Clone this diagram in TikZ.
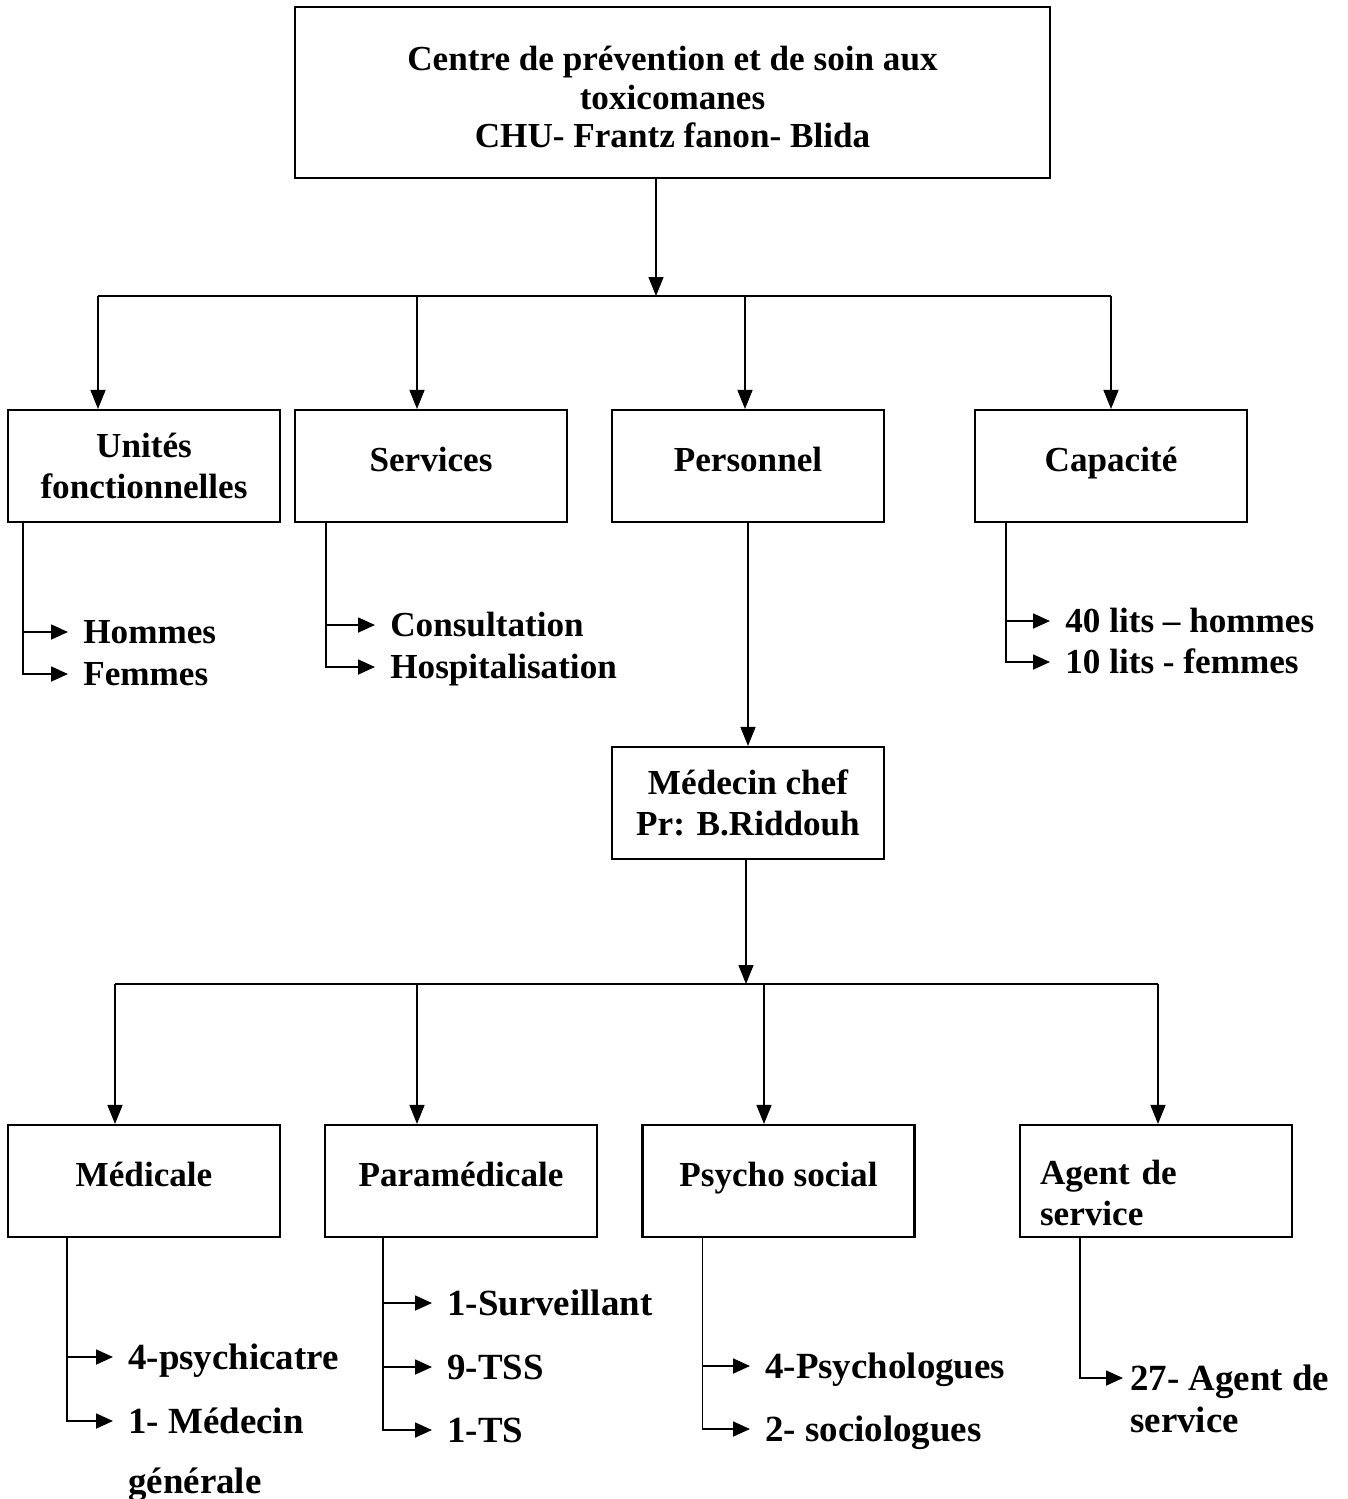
\documentclass[tikz,border=0pt]{standalone}
\usepackage{fontspec}
\setmainfont{Liberation Serif}
\usetikzlibrary{arrows.meta}

\begin{document}
\begin{tikzpicture}[x=0.02cm,y=-0.02cm,
  box/.style={draw,line width=1.2pt,minimum width=5.44cm,minimum height=2.24cm,align=center,font=\bfseries\fontsize{20}{23}\selectfont},
  single/.style={text height=0.5cm,text depth=0.3cm},
  conn/.style={line width=0.8pt,-{Triangle[length=0.38cm,width=0.3cm]}},
  lst/.style={line width=1pt,-{Triangle[length=0.34cm,width=0.3cm]}},
  item/.style={anchor=west,inner xsep=0.3cm,inner ysep=0pt,text height=0.47cm,text depth=0pt,font=\bfseries\fontsize{20}{23}\selectfont},
  itemb/.style={item,text height=0.49cm,font=\bfseries\fontsize{21}{25}\selectfont}]
\useasboundingbox (0,0) rectangle (1348,1499);

\node[box,minimum width=15.1cm,minimum height=3.42cm,line width=1.4pt,font=\bfseries\fontsize{20}{22}\selectfont] (centre) at (672.5,92.5) {\rule{0pt}{0.68cm}Centre de prévention et de soin aux\\toxicomanes\\CHU- Frantz fanon- Blida};

\node[box] (unites) at (144,466) {Unités\\fonctionnelles};
\node[box,single] (services) at (431,466) {Services};
\node[box,single] (personnel) at (748,466) {Personnel};
\node[box,single] (capacite) at (1111,466) {Capacité};

\coordinate (bus1) at (656,296);
\coordinate (b1) at (98,296);
\coordinate (b2) at (417,296);
\coordinate (b3) at (745,296);
\coordinate (b4) at (1111,296);
\draw[conn] (centre.south -| bus1) -- (bus1);
\draw[line width=0.8pt] (b1) -- (b4);
\draw[conn] (b1) -- (b1 |- unites.north);
\draw[conn] (b2) -- (b2 |- services.north);
\draw[conn] (b3) -- (b3 |- personnel.north);
\draw[conn] (b4) -- (b4 |- capacite.north);

\node[item] (hommes) at (68,632) {Hommes};
\node[item] (femmes) at (68,674) {Femmes};
\node[item] (consult) at (375,625) {Consultation};
\node[item] (hospit) at (375,667) {Hospitalisation};
\node[item] (lits40) at (1050,621) {40 lits – hommes};
\node[item] (lits10) at (1050,662) {10 lits - femmes};
\draw[lst] ([xshift=0.32cm]unites.south west) |- (hommes.west);
\draw[lst] ([xshift=0.32cm]unites.south west) |- (femmes.west);
\draw[lst] ([xshift=0.64cm]services.south west) |- (consult.west);
\draw[lst] ([xshift=0.64cm]services.south west) |- (hospit.west);
\draw[lst] ([xshift=0.64cm]capacite.south west) |- (lits40.west);
\draw[lst] ([xshift=0.64cm]capacite.south west) |- (lits10.west);

\node[box] (chef) at (748,803) {Médecin chef\\Pr: B.Riddouh};
\draw[conn] (personnel) -- (chef);

\node[box,single] (medicale) at (144,1181) {Médicale};
\node[box,single] (paramed) at (461,1181) {Paramédicale};
\node[box,single] (psycho) at (778.5,1181) {Psycho social};
\node[box,text width=4.64cm,align=left,inner xsep=0.4cm] (agent) at (1156,1181) {\rule{0pt}{0.96cm}Agent de\\service};

\coordinate (bus2) at (746,984);
\coordinate (c1) at (115,984);
\coordinate (c2) at (417,984);
\coordinate (c3) at (764,984);
\coordinate (c4) at (1158,984);
\draw[conn] (chef.south -| bus2) -- (bus2);
\draw[line width=0.8pt] (c1) -- (c4);
\draw[conn] (c1) -- (c1 |- medicale.north);
\draw[conn] (c2) -- (c2 |- paramed.north);
\draw[conn] (c3) -- (c3 |- psycho.north);
\draw[conn] (c4) -- (c4 |- agent.north);

\node[itemb] (psy1) at (113,1357) {4-psychicatre};
\node[itemb] (med2) at (113,1421) {1- Médecin};
\node[itemb] (med2b) at ([yshift=-1.2cm]med2.west) {générale};
\node[itemb] (surv) at (432,1303) {1-Surveillant};
\node[itemb] (tss) at (432,1367) {9-TSS};
\node[itemb] (ts) at (432,1430) {1-TS};
\node[itemb] (psylog) at (750,1366) {4-Psychologues};
\node[itemb] (socio) at (750,1429) {2- sociologues};
\node[itemb,inner xsep=0.14cm] (agt1) at (1123,1378) {27- Agent de};
\node[itemb,inner xsep=0.14cm] (agt1b) at ([yshift=-0.84cm]agt1.west) {service};
\draw[lst] ([xshift=1.2cm]medicale.south west) |- (psy1.west);
\draw[lst] ([xshift=1.2cm]medicale.south west) |- (med2.west);
\draw[lst] ([xshift=1.18cm]paramed.south west) |- (surv.west);
\draw[lst] ([xshift=1.18cm]paramed.south west) |- (tss.west);
\draw[lst] ([xshift=1.18cm]paramed.south west) |- (ts.west);
\draw[lst] ([xshift=1.22cm]psycho.south west) |- (psylog.west);
\draw[lst] ([xshift=1.22cm]psycho.south west) |- (socio.west);
\draw[lst] ([xshift=1.22cm]agent.south west) |- (agt1.west);
\end{tikzpicture}
\end{document}
